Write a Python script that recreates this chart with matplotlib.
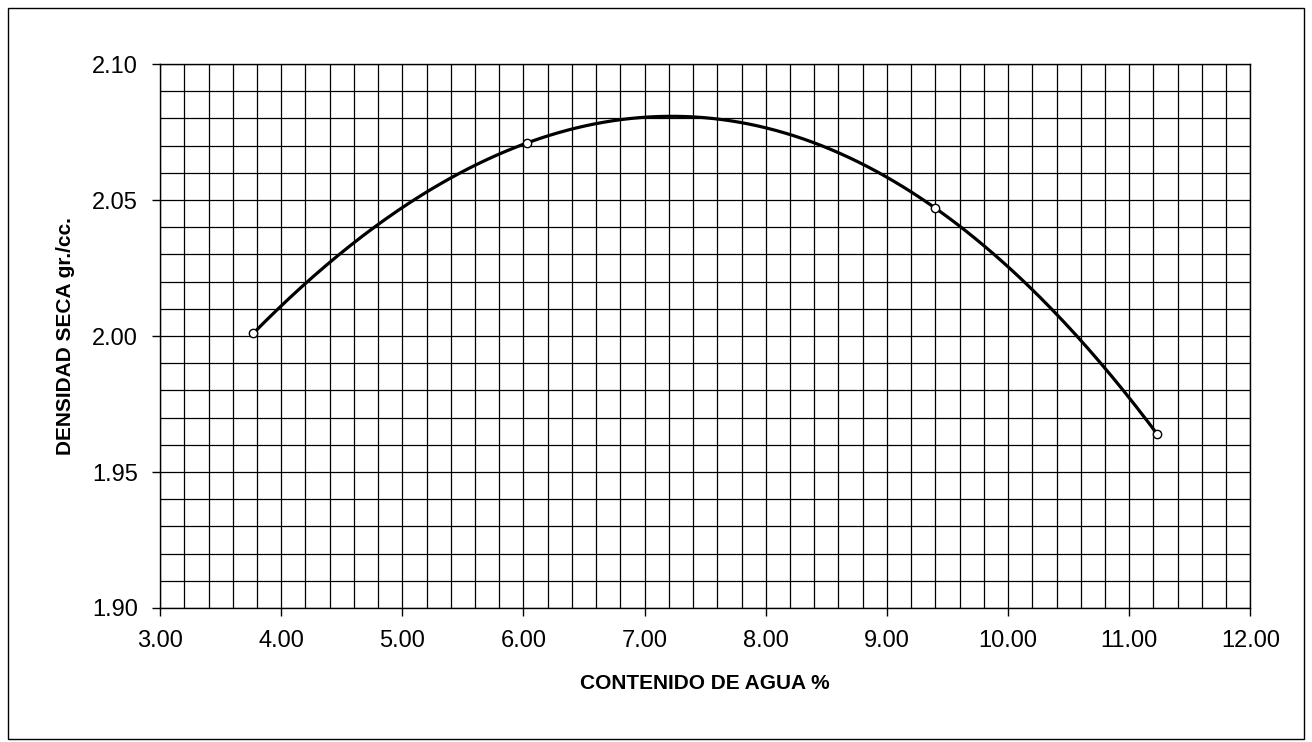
import matplotlib

matplotlib.use("Agg")
import matplotlib.pyplot as plt
import numpy as np
from matplotlib.patches import Rectangle
from matplotlib.ticker import FormatStrFormatter, MultipleLocator

# Proctor test: water content vs dry density
humedad = [3.77, 6.03, 9.40, 11.23]
densidad = [2.001, 2.071, 2.047, 1.964]

x_ticks = [3, 4, 5, 6, 7, 8, 9, 10, 11, 12]
y_ticks = [1.90, 1.95, 2.00, 2.05, 2.10]

plt.rcParams["font.family"] = ["Liberation Sans", "DejaVu Sans"]

fig = plt.figure(figsize=(13.12, 7.42), dpi=100)
ax = fig.add_axes([0.122, 0.1806, 0.831, 0.7331])

# polynomial trend through the measured points
coef = np.polyfit(humedad, densidad, 3)
xs = np.linspace(min(humedad), max(humedad), 300)
ax.plot(xs, np.polyval(coef, xs), color="black", lw=2.3, zorder=3)
ax.plot(humedad, densidad, "o", ms=6, mfc="white", mec="black", mew=1.0, zorder=4)

ax.set_xlim(3, 12)
ax.set_ylim(1.90, 2.10)
ax.set_xticks(x_ticks)
ax.set_yticks(y_ticks)
ax.xaxis.set_minor_locator(MultipleLocator(0.2))
ax.yaxis.set_minor_locator(MultipleLocator(0.01))
ax.xaxis.set_major_formatter(FormatStrFormatter("%.2f"))
ax.yaxis.set_major_formatter(FormatStrFormatter("%.2f"))
ax.grid(which="both", color="black", lw=0.9)
ax.tick_params(which="major", direction="out", length=6, width=1.0, labelsize=17, pad=10)
ax.tick_params(which="minor", length=0)
for s in ax.spines.values():
    s.set_linewidth(1.0)

ax.set_xlabel("CONTENIDO DE AGUA %", fontsize=15, fontweight="bold", labelpad=16)
ax.set_ylabel("DENSIDAD SECA gr./cc.", fontsize=15, fontweight="bold", labelpad=12)

# outer frame of the chart area
fig.patches.append(Rectangle((0.006, 0.004), 0.988, 0.985, transform=fig.transFigure,
                             fill=False, edgecolor="black", lw=1.0))

fig.savefig("out.png", dpi=100, facecolor="white")
